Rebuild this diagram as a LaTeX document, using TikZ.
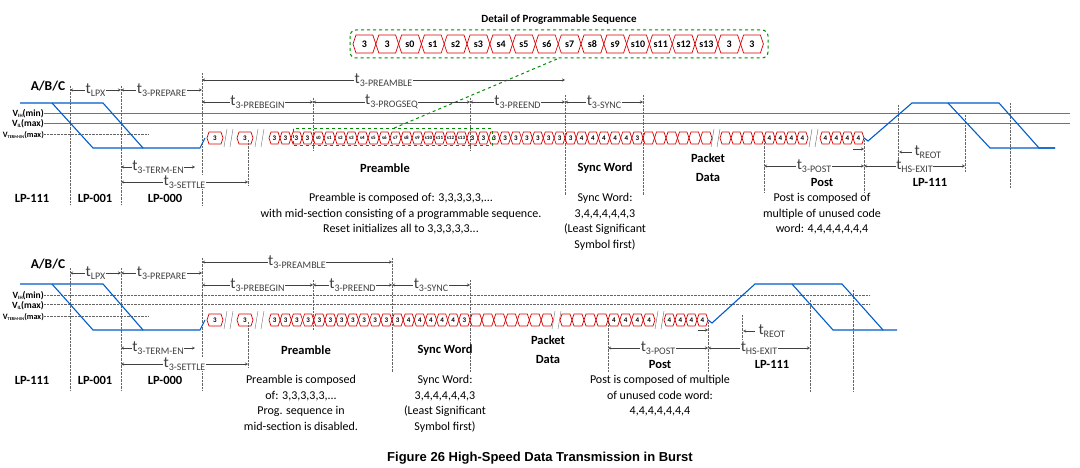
\documentclass[tikz,border=0pt]{standalone}
\usepackage{fontspec}
\setmainfont{Carlito}
\newfontfamily\capfont{Liberation Sans}
\tikzset{
  sig/.style={red!85!black, line width=0.7pt},
  lp/.style={blue!55!cyan!80!black, line width=1.1pt},
  dim/.style={stealth-stealth, black!75, thin},
  vgrid/.style={black!60, densely dotted, thin},
  lvl/.style={font=\bfseries\fontsize{9.5}{9}\selectfont, anchor=east, inner sep=0pt},
  cellnum/.style={font=\bfseries\fontsize{7}{6}\selectfont, inner sep=0pt},
  lbl/.style={font=\bfseries\fontsize{12.5}{13}\selectfont},
  txt/.style={font=\fontsize{12}{15.5}\selectfont, align=center},
  grn/.style={green!55!black, dashed, line width=1pt},
}
\newcommand\tlab[1]{{\fontsize{15.5}{15}\selectfont t}{\fontsize{10}{10}\selectfont\raisebox{-3pt}{#1}}}
\newcommand\vsub[1]{{\fontsize{5}{5}\selectfont\raisebox{-1pt}{#1}}}
\newcommand\vterm{\resizebox{41pt}{!}{V\vsub{TERM-EN}(max)}}
\newcommand\dimarrow[4]{\draw[dim] (#1,#3) -- (#2,#3) node[midway,fill=white,inner sep=0.5pt] {\tlab{#4}};}
\newcommand\cells[5]{%
  \foreach \l [count=\i from 0] in {#4} {
    \pgfmathsetmacro\xa{#1+\i*#2}\pgfmathsetmacro\xb{\xa+#2}
    \draw[sig] (\xa,#3) -- (\xa+2,#3-#5) -- (\xb-2,#3-#5) -- (\xb,#3) -- (\xb-2,#3+#5) -- (\xa+2,#3+#5) -- cycle;
    \node[cellnum] at ({(\xa+\xb)/2},#3) {\l};
  }}
\newcommand\brk[2]{\draw[black!60, thin] (#1,#2+9) -- (#1+3,#2-9) (#1+6,#2+9) -- (#1+9,#2-9);}
\begin{document}
\begin{tikzpicture}[x=1pt,y=-1pt]
  \fill[white] (0,0) rectangle (1080,468);
  \useasboundingbox (0,0) rectangle (1080,468);
  % top diagram
  \node[lbl, font=\bfseries\fontsize{13.5}{13}\selectfont] at (48,86) {A/B/C};
  \draw[black!55] (44,113) -- (1070,113) (44,123) -- (1070,123);
  \draw[vgrid] (44,134) -- (148,134);
  \node[lvl] at (44,114) {V\vsub{IH}(min)};
  \node[lvl] at (44,124) {V\vsub{IL}(max)};
  \node[lvl] at (44,135) {\vterm};
  \foreach \x/\ya/\yb in {70/86/205,121/86/205,202/73/205,248/140/185,313/98/150,470/98/150,565/95/195,643/95/195,764/140/192,864/140/192,898/105/167,965/115/172,1010/103/188}
    \draw[vgrid] (\x,\ya) -- (\x,\yb);
  \draw[lp] (20,103) -- (103,103) -- (143,148) -- (200,148) -- (205,138);
  \draw[lp] (52,103) -- (93,148) -- (143,148);
  \draw[lp] (864,138) -- (868,141) -- (912,103) -- (999,103) -- (1039,148) -- (1055,148);
  \draw[lp] (948,103) -- (990,148) -- (1055,148);
  \cells{207}{16}{138}{3}{6} \brk{224}{138}
  \cells{237}{16}{138}{3}{6} \brk{255}{138}
  \cells{269}{11}{138}{3,3,3,3}{6}
  \cells{313}{11}{138}{\tiny s0,\tiny s1,\tiny s2,\tiny s3,\tiny s4,\tiny s5,\tiny s6,\tiny s7,\tiny s8,\tiny s9,\tiny s10,\tiny s11,\tiny s12,\tiny s13}{6}
  \cells{467}{10.89}{138}{3,3,3,3,3,3,3,3,3}{6}
  \cells{565}{11.14}{138}{3,4,4,4,4,4,3}{6}
  \cells{643}{11.5}{138}{{},{},{},{},{},{}}{6} \brk{711}{138}
  \cells{720}{11}{138}{{},{},{},{}}{6}
  \cells{764}{11}{138}{4,4,4,4}{6} \brk{809}{138}
  \cells{820}{11}{138}{4,4,4,4}{6}
  \draw[grn] (293,129) rectangle (492,146);
  \draw[grn] (557,59) -- (392,129);
  \draw[grn, rounded corners=6pt] (350,30) rectangle (768,58);
  \node[font=\bfseries\fontsize{11}{11}\selectfont] at (559,20) {Detail of Programmable Sequence};
  \foreach \l [count=\i from 0] in {3,3,s0,s1,s2,s3,s4,s5,s6,s7,s8,s9,s10,s11,s12,s13,3,3} {
    \pgfmathsetmacro\xa{353+\i*22.8}\pgfmathsetmacro\xb{\xa+22.8}
    \draw[sig] (\xa,44) -- (\xa+3,35) -- (\xb-3,35) -- (\xb,44) -- (\xb-3,53) -- (\xa+3,53) -- cycle;
    \node[font=\bfseries\fontsize{10}{9}\selectfont, inner sep=0pt] at ({(\xa+\xb)/2},44) {\l};
  }
  \dimarrow{70}{121}{90}{LPX}
  \dimarrow{121}{202}{90}{3-PREPARE}
  \dimarrow{202}{565}{80}{3-PREAMBLE}
  \dimarrow{202}{313}{102}{3-PREBEGIN}
  \dimarrow{313}{470}{102}{3-PROGSEQ}
  \dimarrow{470}{565}{102}{3-PREEND}
  \dimarrow{565}{643}{102}{3-SYNC}
  \dimarrow{121}{195}{167}{3-TERM-EN}
  \dimarrow{121}{248}{182}{3-SETTLE}
  \dimarrow{764}{864}{166}{3-POST}
  \dimarrow{864}{965}{166}{HS-EXIT}
  \draw[-stealth, black!75] (853,149) -- (864,149);
  \draw[-stealth, black!75] (912,152) -- (899,152) node[right=12pt, anchor=west] {\tlab{REOT}};
  \node[lbl] at (32,198) {LP-111};
  \node[lbl] at (95,198) {LP-001};
  \node[lbl] at (165,198) {LP-000};
  \node[lbl] at (385,168) {Preamble};
  \node[lbl] at (605,168) {Sync Word};
  \node[lbl, align=center, font=\bfseries\fontsize{12.5}{19}\selectfont] at (708,168) {Packet\\Data};
  \node[lbl] at (822,182) {Post};
  \node[lbl] at (930,182) {LP-111};
  \node[txt, anchor=north] at (401,190) {Preamble is composed of: 3,3,3,3,3,...\\with mid-section consisting of a programmable sequence.\\Reset initializes all to 3,3,3,3,3...};
  \node[txt, anchor=north] at (605,190) {Sync Word:\\3,4,4,4,4,4,3\\(Least Significant\\Symbol first)};
  \node[txt, anchor=north] at (822,190) {Post is composed of\\multiple of unused code\\word: 4,4,4,4,4,4,4};
  % bottom diagram
  \node[lbl, font=\bfseries\fontsize{13.5}{13}\selectfont] at (48,264) {A/B/C};
  \draw[vgrid] (44,295) -- (870,295) (44,304) -- (870,304) (44,316) -- (148,316);
  \node[lvl] at (44,296) {V\vsub{IH}(min)};
  \node[lvl] at (44,306) {V\vsub{IL}(max)};
  \node[lvl] at (44,317) {\vterm};
  \foreach \x/\ya/\yb in {70/268/390,121/268/390,202/258/390,248/322/367,313/280/330,392/258/372,470/280/372,608/322/372,708/322/372,742/315/340,810/300/392,853/290/392}
    \draw[vgrid] (\x,\ya) -- (\x,\yb);
  \draw[lp] (20,284) -- (103,284) -- (143,330) -- (200,330) -- (205,320);
  \draw[lp] (52,284) -- (93,330) -- (143,330);
  \draw[lp] (708,320) -- (712,323) -- (755,284) -- (842,284) -- (883,330) -- (897,330);
  \draw[lp] (792,284) -- (833,330) -- (883,330);
  \cells{207}{16}{320}{3}{6} \brk{224}{320}
  \cells{237}{16}{320}{3}{6} \brk{255}{320}
  \cells{269}{11.18}{320}{3,3,3,3,3,3,3,3,3,3,3}{6}
  \cells{392}{11.14}{320}{3,4,4,4,4,4,3}{6}
  \cells{470}{11.86}{320}{{},{},{},{},{},{},{}}{6} \brk{552}{320}
  \cells{560}{12}{320}{{},{},{},{}}{6}
  \cells{608}{11.75}{320}{4,4,4,4}{6} \brk{655}{320}
  \cells{664}{11}{320}{4,4,4,4}{6}
  \dimarrow{70}{121}{273}{LPX}
  \dimarrow{121}{202}{273}{3-PREPARE}
  \dimarrow{202}{392}{262}{3-PREAMBLE}
  \dimarrow{202}{313}{285}{3-PREBEGIN}
  \dimarrow{313}{392}{285}{3-PREEND}
  \dimarrow{392}{470}{285}{3-SYNC}
  \dimarrow{121}{195}{348}{3-TERM-EN}
  \dimarrow{121}{248}{364}{3-SETTLE}
  \dimarrow{608}{708}{348}{3-POST}
  \dimarrow{708}{810}{348}{HS-EXIT}
  \draw[-stealth, black!75] (698,330) -- (708,330);
  \draw[-stealth, black!75] (755,331) -- (743,331) node[right=12pt, anchor=west] {\tlab{REOT}};
  \node[lbl] at (32,380) {LP-111};
  \node[lbl] at (95,380) {LP-001};
  \node[lbl] at (165,380) {LP-000};
  \node[lbl] at (306,350) {Preamble};
  \node[lbl] at (445,350) {Sync Word};
  \node[lbl, align=center, font=\bfseries\fontsize{12.5}{19}\selectfont] at (548,350) {Packet\\Data};
  \node[lbl] at (660,364) {Post};
  \node[lbl] at (772,364) {LP-111};
  \node[txt, anchor=north] at (301,372) {Preamble is composed\\of: 3,3,3,3,3,...\\Prog. sequence in\\mid-section is disabled.};
  \node[txt, anchor=north] at (445,372) {Sync Word:\\3,4,4,4,4,4,3\\(Least Significant\\Symbol first)};
  \node[txt, anchor=north] at (660,372) {Post is composed of multiple\\of unused code word:\\4,4,4,4,4,4,4};
  \node[font=\capfont\bfseries\fontsize{13}{13}\selectfont] at (540,458) {Figure 26 High-Speed Data Transmission in Burst};
\end{tikzpicture}
\end{document}
